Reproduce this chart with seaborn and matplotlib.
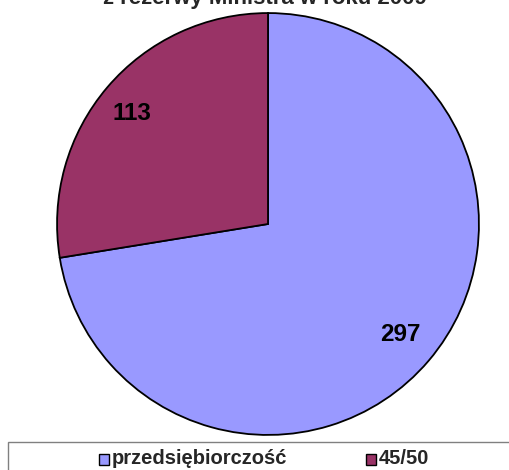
import matplotlib
matplotlib.use("Agg")
import matplotlib.pyplot as plt
import seaborn as sns
from matplotlib.patches import Rectangle

sns.set_theme(style="white")
plt.rcParams['font.family'] = ['Liberation Sans', 'DejaVu Sans']

categories = ["przedsiębiorczość", "45/50"]
values = [297, 113]
colors = ["#9999FF", "#993366"]
title = "z rezerwy Ministra w roku 2009"

fig = plt.figure(figsize=(5.1, 4.7), dpi=100)
fig.patch.set_facecolor("white")

ax = fig.add_axes([56/510, 34/470, 424/510, 424/470])
wedges, texts = ax.pie(values, colors=colors, startangle=90, counterclock=False,
                       wedgeprops=dict(edgecolor="black", linewidth=1.3),
                       labels=[str(v) for v in values], labeldistance=0.7,
                       textprops=dict(fontsize=17.5, fontweight="bold", color="black",
                                      ha="center", va="center"))
texts[0].set_position((0.627, -0.524))
texts[0].set_ha("center"); texts[0].set_va("center")
texts[1].set_position((-0.644, 0.524))
texts[1].set_ha("center"); texts[1].set_va("center")
ax.set_aspect("equal")
ax.set_xlim(-1.005, 1.005)
ax.set_ylim(-1.005, 1.005)
ax.axis("off")

fig.text(265/510, 1 - 4/470, title, ha="center", va="baseline",
         fontsize=16, fontweight="bold")

# legend box
fig.add_artist(Rectangle((8/510, -0.05), 0.99, (470-442)/470 + 0.05,
                         transform=fig.transFigure, facecolor="white",
                         edgecolor="#808080", linewidth=1))
legend_x = [99, 366]
for xpos, lab, col in zip(legend_x, categories, colors):
    fig.add_artist(Rectangle((xpos/510, (470-465)/470), 10/510, 11/470,
                             transform=fig.transFigure, facecolor=col,
                             edgecolor="black", linewidth=1))
    fig.text((xpos + 13)/510, (470-459)/470, lab, ha="left", va="center",
             fontsize=14.5, fontweight="bold")

fig.savefig("out.png", dpi=100)
